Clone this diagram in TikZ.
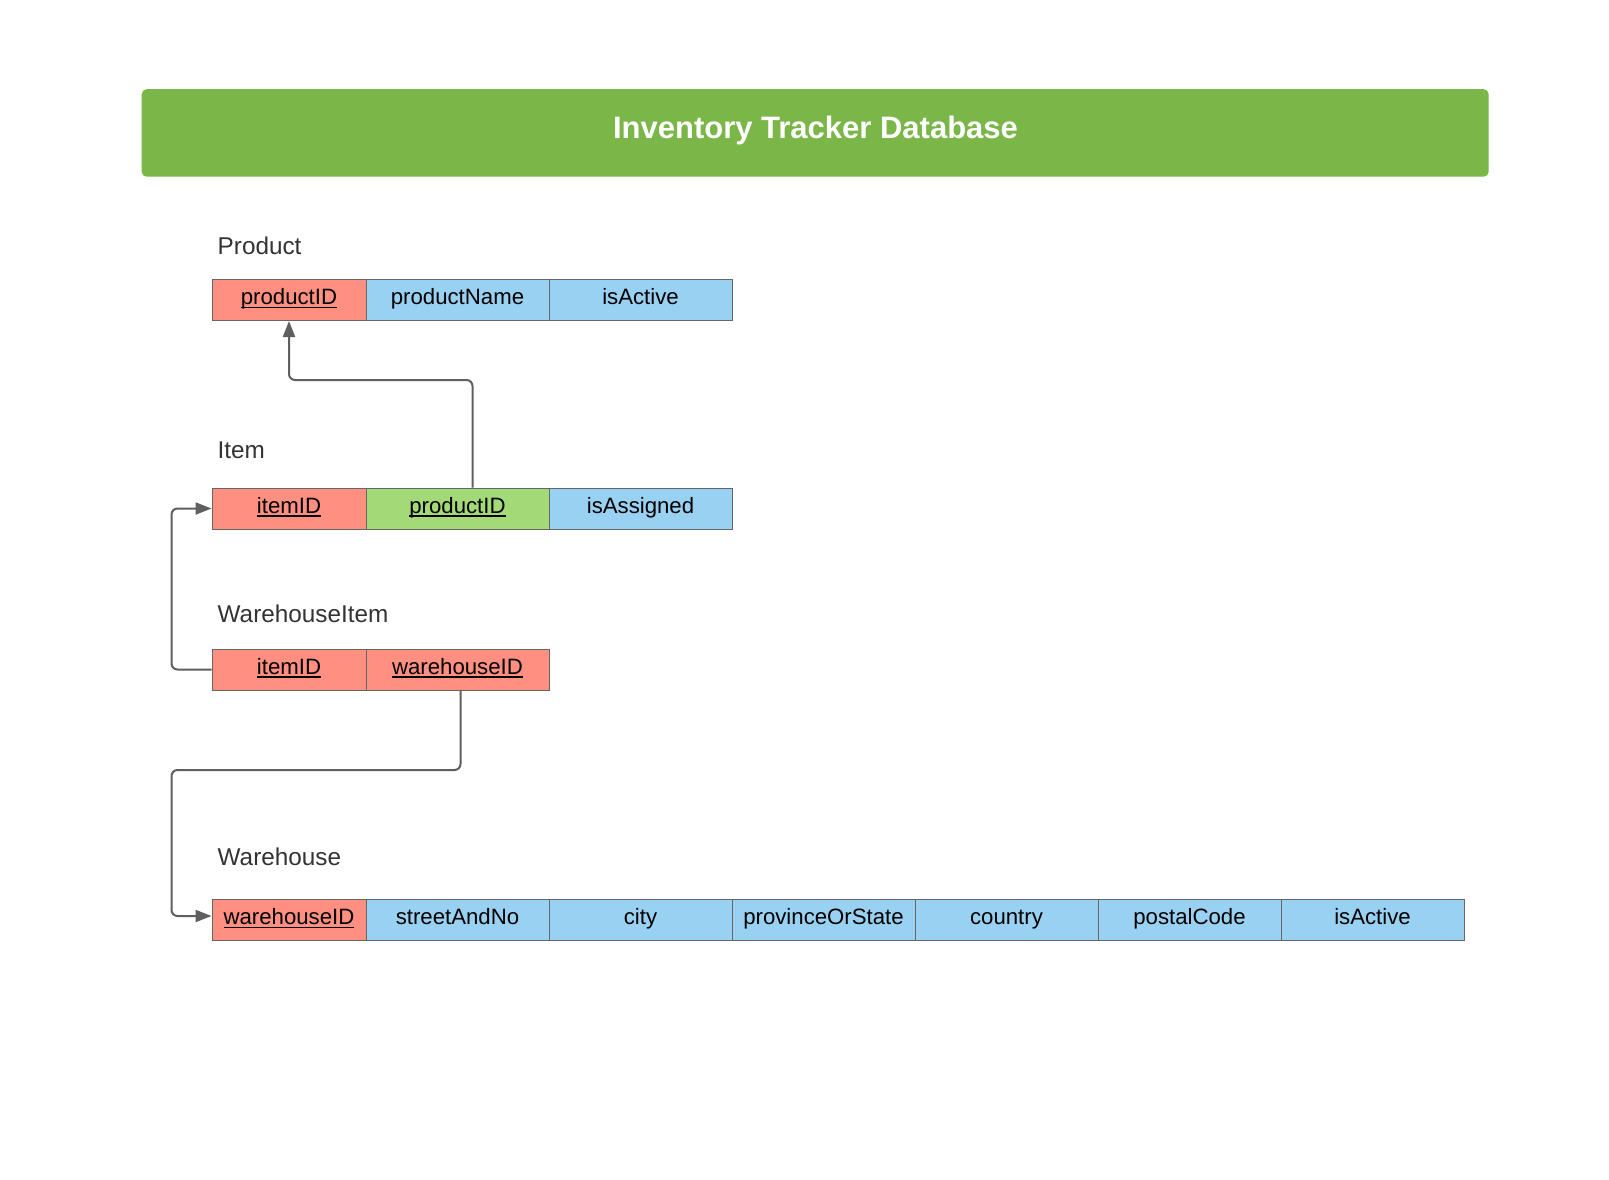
\documentclass[tikz,border=0pt]{standalone}
\usepackage{fontspec}
\setmainfont{Liberation Sans}
\usetikzlibrary{arrows.meta}
\definecolor{banner}{HTML}{7AB648}
\definecolor{pkcol}{HTML}{FF8F80}
\definecolor{attcol}{HTML}{99D1F2}
\definecolor{fkcol}{HTML}{A3D977}
\definecolor{cellborder}{HTML}{666666}
\definecolor{linecol}{HTML}{5F5F5F}
\definecolor{labelcol}{HTML}{333333}
\newcommand\keyul[1]{\setbox0=\hbox{#1}\rlap{\rule[-3.6pt]{\wd0}{1.4pt}}\box0}
\tikzset{
  cell/.style={draw=cellborder, line width=1pt, minimum height=41pt, inner sep=0pt,
    text height=16pt, text depth=7pt, font=\fontsize{22.2}{26}\selectfont,
    anchor=north west, text=black},
  pk/.style={cell, fill=pkcol, minimum width=154pt},
  fk/.style={cell, fill=fkcol, minimum width=183pt},
  att/.style={cell, fill=attcol, minimum width=183pt},
  tlabel/.style={anchor=west, inner sep=0pt, text height=22pt, text depth=5.2pt,
    font=\fontsize{24.3}{28}\selectfont, text=labelcol},
  conn/.style={draw=linecol, line width=2pt, rounded corners=6pt,
    -{Triangle[length=16pt,width=12pt]}}
}
\begin{document}
\begin{tikzpicture}[x=1pt,y=-1pt]
\useasboundingbox[fill=white] (0,0) rectangle (1609,1179);
% banner
\node[fill=banner, rounded corners=5pt, minimum width=1347pt, minimum height=87.5pt,
  anchor=north west, inner sep=0pt] (banner) at (141.5,89) {};
\node[font=\fontsize{31}{36}\selectfont\bfseries, text=white, inner sep=0pt,
  text height=28pt, text depth=6.6pt] (title) at (815.5,128) {Inventory Tracker Database};
% Product
\node[tlabel] (lProduct) at (217.5,246.3) {Product};
\node[pk] (pProd) at (211.5,279) {\keyul{productID}};
\node[att] (pName) at (365.5,279) {productName};
\node[att] (pAct) at (548.5,279) {isActive};
% Item
\node[tlabel] (lItem) at (217.5,450.5) {Item};
\node[pk] (iItem) at (211.5,487.5) {\keyul{itemID}};
\node[fk] (iProd) at (365.5,487.5) {\keyul{productID}};
\node[att] (iAss) at (548.5,487.5) {isAssigned};
% WarehouseItem
\node[tlabel] (lWI) at (217.5,613.6) {WarehouseItem};
\node[pk] (wiItem) at (211.5,648.5) {\keyul{itemID}};
\node[pk, minimum width=183pt] (wiWh) at (365.5,648.5) {\keyul{warehouseID}};
% Warehouse
\node[tlabel] (lW) at (217.5,856.8) {Warehouse};
\node[pk] (wWh) at (211.5,899) {\keyul{warehouseID}};
\node[att] (wStreet) at (365.5,899) {streetAndNo};
\node[att] (wCity) at (548.5,899) {city};
\node[att] (wProv) at (731.5,899) {provinceOrState};
\node[att] (wCountry) at (914.5,899) {country};
\node[att] (wPostal) at (1097.5,899) {postalCode};
\node[att] (wAct) at (1280.5,899) {isActive};
% connectors
\draw[conn] ([xshift=15pt]iProd.north) -- ++(0,-107.5) -| (pProd.south);
\draw[conn] (wiItem.west) -- ++(-40,0) |- (iItem.west);
\coordinate (bendW) at (171.5,770);
\draw[conn] ([xshift=3pt]wiWh.south) |- (bendW) |- ([yshift=4pt]wWh.west);
\end{tikzpicture}
\end{document}
